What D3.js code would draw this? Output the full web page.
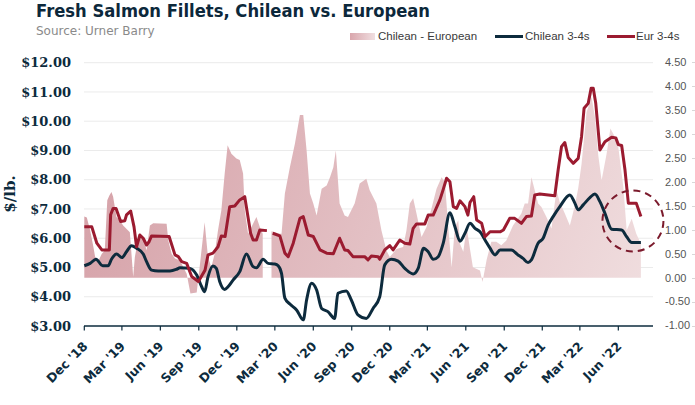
<!DOCTYPE html>
<html><head><meta charset="utf-8">
<script src="https://cdn.jsdelivr.net/npm/d3@7"></script>
<style>html,body{margin:0;padding:0;background:#fff;}svg{display:block;}</style>
</head><body>
<svg id="chart" width="695" height="405"></svg>
<script>
// ---------- DATA ----------
const eurDates = ["2018-12-01","2018-12-19","2018-12-31","2019-01-12","2019-01-30","2019-02-02","2019-02-08","2019-02-15","2019-02-26","2019-03-08","2019-03-12","2019-03-22","2019-03-30","2019-04-05","2019-04-13","2019-04-21","2019-04-29","2019-05-05","2019-05-11","2019-06-22","2019-07-06","2019-07-14","2019-07-22","2019-08-03","2019-08-15","2019-08-31","2019-09-16","2019-09-23","2019-10-05","2019-10-17","2019-10-25","2019-11-03","2019-11-14","2019-11-26","2019-12-08","2019-12-20","2020-01-03","2020-01-09","2020-01-17","2020-01-25","2020-02-11","2020-02-18","2020-02-25","2020-03-13","2020-03-25","2020-04-02","2020-04-14","2020-04-30","2020-05-08","2020-05-20","2020-06-01","2020-06-17","2020-07-03","2020-07-19","2020-08-03","2020-08-15","2020-08-23","2020-09-04","2020-10-02","2020-10-10","2020-10-18","2020-11-03","2020-11-07","2020-11-19","2020-12-01","2020-12-09","2020-12-25","2021-01-06","2021-01-18","2021-01-26","2021-02-03","2021-02-23","2021-03-03","2021-03-15","2021-03-31","2021-04-08","2021-04-16","2021-04-24","2021-05-02","2021-05-10","2021-05-18","2021-05-30","2021-06-06","2021-06-11","2021-06-20","2021-06-27","2021-07-09","2021-07-17","2021-07-29","2021-08-22","2021-08-30","2021-09-14","2021-09-26","2021-10-12","2021-10-24","2021-11-05","2021-11-13","2021-11-25","2021-12-31","2022-01-08","2022-01-16","2022-01-24","2022-02-01","2022-02-13","2022-02-25","2022-03-05","2022-03-11","2022-03-21","2022-03-28","2022-04-02","2022-04-08","2022-04-18","2022-04-30","2022-05-16","2022-05-26","2022-06-01","2022-06-09","2022-06-17","2022-06-25","2022-07-14","2022-07-25"];
const eurValues = [6.39,6.39,5.83,5.60,5.60,6.80,7.02,7.02,6.57,6.60,6.80,6.93,6.39,5.71,6.11,6.00,5.77,5.88,6.08,6.06,5.43,5.37,5.20,5.14,4.69,4.52,4.91,5.43,5.49,5.71,6.08,6.06,7.08,7.10,7.31,7.42,6.17,5.94,5.94,6.28,6.26,null,6.17,6.08,5.49,5.37,5.83,6.68,6.74,6.11,6.06,5.60,5.49,5.47,6.00,5.60,5.58,5.37,5.37,5.26,5.39,5.37,5.28,5.60,5.75,5.60,5.94,5.83,5.80,6.34,6.49,6.49,6.79,6.79,7.31,7.67,8.05,7.93,7.08,7.02,7.28,7.08,6.79,7.22,7.42,6.62,6.51,6.05,6.22,6.22,6.28,6.68,6.68,6.51,6.74,6.76,7.48,7.51,7.45,8.33,9.13,9.27,8.76,8.56,8.73,9.47,10.44,10.61,11.13,11.13,10.61,9.02,9.30,9.45,9.43,9.20,9.17,8.33,7.20,7.20,6.74];

const chlDates = ["2018-12-01","2018-12-15","2018-12-29","2019-01-14","2019-01-27","2019-02-04","2019-02-16","2019-03-01","2019-03-12","2019-03-24","2019-04-05","2019-04-21","2019-04-29","2019-05-11","2019-05-27","2019-06-24","2019-07-10","2019-07-18","2019-08-11","2019-08-27","2019-09-08","2019-09-15","2019-09-23","2019-10-05","2019-10-13","2019-10-21","2019-11-02","2019-11-10","2019-11-22","2019-12-08","2019-12-24","2020-01-09","2020-01-17","2020-02-02","2020-02-14","2020-03-01","2020-03-09","2020-03-17","2020-03-25","2020-04-06","2020-04-22","2020-05-08","2020-05-16","2020-05-28","2020-06-09","2020-06-21","2020-07-06","2020-07-22","2020-07-30","2020-08-19","2020-08-31","2020-09-16","2020-10-06","2020-10-22","2020-11-07","2020-11-19","2020-12-05","2020-12-21","2021-01-06","2021-01-26","2021-02-07","2021-02-20","2021-03-03","2021-03-15","2021-03-27","2021-04-08","2021-04-24","2021-05-06","2021-05-18","2021-05-30","2021-06-11","2021-06-23","2021-07-05","2021-07-17","2021-07-29","2021-08-10","2021-08-22","2021-09-18","2021-10-04","2021-10-16","2021-10-28","2021-11-05","2021-11-21","2021-12-03","2021-12-15","2021-12-27","2022-01-12","2022-02-05","2022-02-17","2022-02-25","2022-03-09","2022-03-25","2022-04-06","2022-04-18","2022-04-30","2022-05-16","2022-06-09","2022-06-21","2022-07-03","2022-07-25"];
const chlValues = [5.06,5.14,5.28,5.06,5.06,5.28,5.46,5.34,5.54,5.74,5.66,5.46,5.20,4.91,4.88,4.88,4.94,4.99,4.97,4.74,4.34,4.17,4.68,5.05,4.97,4.52,4.25,4.34,4.57,4.86,5.46,5.03,4.99,5.28,5.14,5.12,5.06,4.80,3.95,3.75,3.55,3.21,3.89,4.46,4.23,3.60,3.49,3.26,4.12,4.20,3.89,3.38,3.26,3.60,4.00,5.09,5.28,5.22,4.97,4.78,4.97,5.66,5.54,5.28,5.37,5.83,6.87,6.39,5.90,6.17,6.51,6.34,6.22,5.94,5.66,5.43,5.60,5.60,5.43,5.31,5.17,5.26,5.83,6.00,6.45,6.74,7.08,7.48,7.20,6.97,7.14,7.39,7.51,7.25,6.85,6.31,6.28,6.05,5.85,5.85];

const diffDates = ["2018-12-01","2018-12-07","2018-12-15","2018-12-23","2018-12-27","2019-01-04","2019-01-12","2019-01-19","2019-01-25","2019-01-30","2019-02-04","2019-02-08","2019-02-16","2019-02-24","2019-03-04","2019-03-20","2019-03-28","2019-04-01","2019-04-11","2019-04-21","2019-04-29","2019-05-07","2019-05-15","2019-06-16","2019-06-20","2019-06-28","2019-07-06","2019-07-18","2019-08-03","2019-08-12","2019-08-27","2019-09-03","2019-09-15","2019-09-23","2019-10-01","2019-10-09","2019-10-17","2019-10-25","2019-11-02","2019-11-09","2019-11-18","2019-11-30","2019-12-08","2019-12-16","2019-12-20","2019-12-28","2020-01-05","2020-01-17","2020-01-25","2020-02-01","2020-02-12","2020-02-22","2020-03-13","2020-03-17","2020-03-25","2020-04-06","2020-04-18","2020-04-30","2020-05-08","2020-05-16","2020-05-24","2020-06-01","2020-06-09","2020-06-21","2020-07-03","2020-07-11","2020-07-19","2020-07-25","2020-08-03","2020-08-15","2020-08-23","2020-09-08","2020-09-20","2020-10-06","2020-10-14","2020-10-30","2020-11-11","2020-11-23","2020-12-01","2020-12-17","2021-01-02","2021-01-10","2021-01-18","2021-01-26","2021-02-03","2021-02-15","2021-02-27","2021-03-11","2021-03-23","2021-04-04","2021-04-12","2021-04-20","2021-04-28","2021-05-06","2021-05-14","2021-05-18","2021-05-26","2021-06-03","2021-06-11","2021-06-18","2021-07-05","2021-07-11","2021-07-21","2021-08-01","2021-08-13","2021-08-25","2021-09-06","2021-09-22","2021-10-12","2021-10-20","2021-10-28","2021-11-05","2021-11-13","2021-11-21","2021-11-29","2021-12-11","2021-12-23","2022-01-04","2022-01-12","2022-01-24","2022-02-05","2022-02-17","2022-02-25","2022-03-05","2022-03-17","2022-03-29","2022-04-06","2022-04-14","2022-04-22","2022-05-04","2022-05-13","2022-05-24","2022-06-01","2022-06-13","2022-06-21","2022-07-03","2022-07-14","2022-07-25"];
const diffValues = [1.28,1.26,0.99,0.63,0.43,0.36,0.50,0.57,1.62,1.72,1.79,1.69,1.27,1.20,1.09,0.95,0.02,0.43,0.92,0.85,0.57,1.09,1.14,1.13,0.78,0.50,0.40,0.36,0.08,-0.33,-0.31,0.22,1.16,0.43,0.22,0.50,0.99,1.41,2.18,2.77,2.59,2.49,2.46,2.18,1.41,0.92,1.06,1.27,1.06,0.92,null,0.97,0.92,0.92,1.76,2.31,2.80,3.40,3.40,2.66,1.76,1.55,1.30,1.86,1.93,2.10,2.31,2.66,1.55,1.30,1.27,1.55,1.97,2.07,1.83,1.55,0.99,0.57,0.43,0.60,0.64,0.99,1.55,1.66,1.34,0.85,1.06,1.45,1.86,2.10,2.00,1.06,0.22,1.06,1.20,0.71,0.54,1.06,0.60,0.22,0.15,-0.09,0.38,0.75,0.75,0.68,0.78,1.09,1.34,1.55,1.55,2.10,1.83,1.55,1.48,1.27,1.03,1.83,1.58,1.34,1.09,1.51,1.87,2.38,3.46,3.78,3.36,2.56,2.04,2.59,3.12,2.94,2.73,1.90,0.99,1.23,0.92,0.71];

const xTickDates = ["2018-12-01","2019-03-01","2019-06-01","2019-09-01","2019-12-01","2020-03-01","2020-06-01","2020-09-01","2020-12-01","2021-03-01","2021-06-01","2021-09-01","2021-12-01","2022-03-01","2022-06-01"];
const xTickLabels = ["Dec '18","Mar '19","Jun '19","Sep '19","Dec '19","Mar '20","Jun '20","Sep '20","Dec '20","Mar '21","Jun '21","Sep '21","Dec '21","Mar '22","Jun '22"];
const leftTicks = [3,4,5,6,7,8,9,10,11,12];
const rightTicks = [-1,-0.5,0,0.5,1,1.5,2,2.5,3,3.5,4,4.5];
const xDomain = ["2018-12-01","2022-08-23"];
const legendLabels = ["Chilean - European","Chilean 3-4s","Eur 3-4s"];
const highlightPoint = {date:"2022-07-06", value:6.59};

// ---------- CHART ----------
const parse = d3.timeParse("%Y-%m-%d");
const svg = d3.select("#chart");
const NAVY = "#0d2b3d", RED = "#9b1b30";

const x = d3.scaleTime().domain(xDomain.map(parse)).range([84.3, 653]);
const yL = d3.scaleLinear().domain([3,12]).range([326, 62.7]);
const yR = d3.scaleLinear().domain([-1,4.5]).range([325.5, 62.5]);

const mk = (ds, vs) => ds.map((d,i)=>({date:parse(d), value:vs[i]}));
const eur = mk(eurDates, eurValues), chl = mk(chlDates, chlValues), diff = mk(diffDates, diffValues);

const defs = svg.append("defs");
const g1 = defs.append("linearGradient").attr("id","areaGrad").attr("gradientUnits","userSpaceOnUse")
  .attr("x1",84).attr("y1",90).attr("x2",653).attr("y2",330);
g1.append("stop").attr("offset","0%").attr("stop-color","#d49ea5");
g1.append("stop").attr("offset","100%").attr("stop-color","#f1e0e1");
const g2 = defs.append("linearGradient").attr("id","legGrad");
g2.append("stop").attr("offset","0%").attr("stop-color","#d9a6ac");
g2.append("stop").attr("offset","100%").attr("stop-color","#f0dfe1");

// title
svg.append("text").attr("x",36).attr("y",16.5).attr("font-family","DejaVu Sans").attr("font-weight","bold")
  .attr("font-size",17.5).attr("fill","#0c283b").attr("textLength",394).attr("lengthAdjust","spacingAndGlyphs")
  .text("Fresh Salmon Fillets, Chilean vs. European");
svg.append("text").attr("x",36).attr("y",34.5).attr("font-family","DejaVu Sans").attr("font-size",12)
  .attr("fill","#8a8a8a").text("Source: Urner Barry");

// gridlines
svg.append("g").selectAll("line").data(leftTicks.filter(t=>t>3)).join("line")
  .attr("x1",84).attr("x2",653).attr("y1",d=>yL(d)).attr("y2",d=>yL(d))
  .attr("stroke","#ebebeb").attr("stroke-width",1);

// left axis labels
svg.append("g").selectAll("text").data(leftTicks).join("text")
  .attr("x",71).attr("y",d=>yL(d)).attr("dy","0.36em").attr("text-anchor","end")
  .attr("font-family","DejaVu Serif").attr("font-weight","bold").attr("font-size",13).attr("fill",NAVY)
  .text(d=>"$"+d.toFixed(2));
svg.append("text").attr("transform","translate(15,194) rotate(-90)").attr("text-anchor","middle")
  .attr("font-family","DejaVu Serif").attr("font-weight","bold").attr("font-size",15).attr("fill",NAVY)
  .text("$/lb.");

// right axis labels
svg.append("g").selectAll("text").data(rightTicks).join("text")
  .attr("x",665).attr("y",d=>yR(d)).attr("dy","0.35em")
  .attr("font-family","Liberation Sans, Arial").attr("font-size",11).attr("fill","#555")
  .text(d=>d.toFixed(2));
svg.append("g").selectAll("line").data(d3.range(0,12)).join("line")
  .attr("x1",692).attr("x2",695).attr("y1",d=>62.5+d*24).attr("y2",d=>62.5+d*24)
  .attr("stroke","#d8d8d8");

// area
const area = d3.area().defined(d=>d.value!==null).x(d=>x(d.date)).y0(yR(0)).y1(d=>yR(d.value));
svg.append("path").datum(diff).attr("d",area).attr("fill","url(#areaGrad)");

// lines
const lineL = d3.line().defined(d=>d.value!==null).x(d=>x(d.date)).y(d=>yL(d.value));
svg.append("path").datum(chl).attr("d",lineL.curve(d3.curveMonotoneX)).attr("fill","none")
  .attr("stroke",NAVY).attr("stroke-width",3).attr("stroke-linejoin","round");
svg.append("path").datum(eur).attr("d",d3.line().defined(d=>d.value!==null).x(d=>x(d.date)).y(d=>yL(d.value)))
  .attr("fill","none").attr("stroke",RED).attr("stroke-width",3).attr("stroke-linejoin","round");

// x axis
svg.append("line").attr("x1",84).attr("x2",653).attr("y1",326).attr("y2",326).attr("stroke",NAVY).attr("stroke-width",1.5);
const xt = xTickDates.map(parse);
svg.append("g").selectAll("line").data(xt).join("line")
  .attr("x1",d=>x(d)).attr("x2",d=>x(d)).attr("y1",326).attr("y2",330.5).attr("stroke",NAVY).attr("stroke-width",1.2);
svg.append("g").selectAll("text").data(xt).join("text")
  .attr("transform",d=>`translate(${x(d)+4},347) rotate(-45)`).attr("text-anchor","end")
  .attr("font-family","DejaVu Sans").attr("font-weight","bold").attr("font-size",12.5).attr("fill",NAVY)
  .text((d,i)=>xTickLabels[i]);

// highlight circle
svg.append("circle").attr("cx",x(parse(highlightPoint.date))).attr("cy",yL(highlightPoint.value)).attr("r",30.5)
  .attr("fill","none").attr("stroke","#7b1a2c").attr("stroke-width",2).attr("stroke-dasharray","7,5");

// legend
const lg = svg.append("g").attr("font-family","Liberation Sans, Arial").attr("font-size",11.5).attr("fill","#3a3a3a");
lg.append("rect").attr("x",350).attr("y",33).attr("width",25).attr("height",7).attr("fill","url(#legGrad)");
lg.append("text").attr("x",378).attr("y",40).text(legendLabels[0]);
lg.append("line").attr("x1",495).attr("x2",523).attr("y1",36.5).attr("y2",36.5).attr("stroke",NAVY).attr("stroke-width",3);
lg.append("text").attr("x",525).attr("y",40).text(legendLabels[1]);
lg.append("line").attr("x1",607).attr("x2",635).attr("y1",36.5).attr("y2",36.5).attr("stroke",RED).attr("stroke-width",3);
lg.append("text").attr("x",636).attr("y",40).text(legendLabels[2]);
</script>
</body></html>
